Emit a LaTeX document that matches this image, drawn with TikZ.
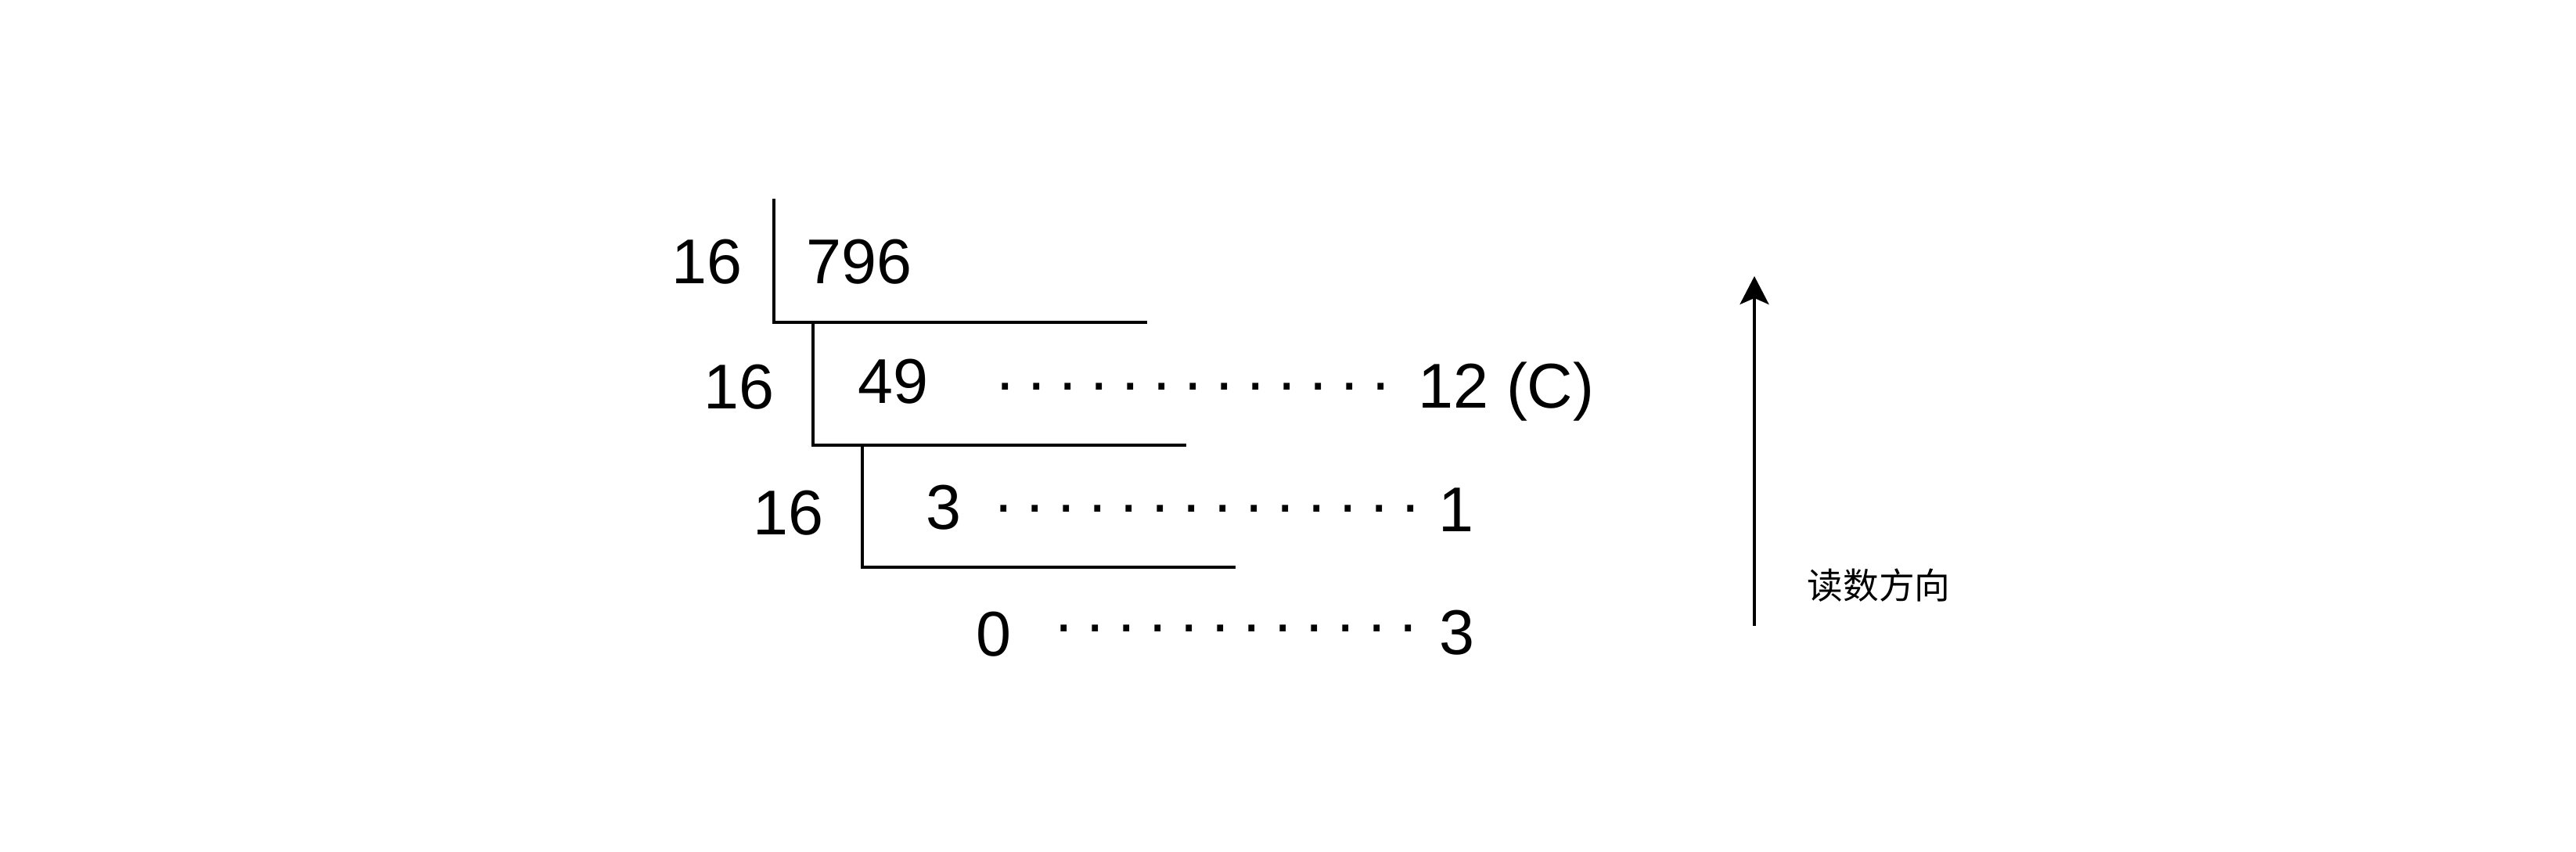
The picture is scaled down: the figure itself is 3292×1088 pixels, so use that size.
\documentclass[tikz,border=0pt]{standalone}
\usepackage{fontspec}
\setmainfont{Liberation Sans}
\newfontfamily\cjk{Noto Sans CJK SC}
\usetikzlibrary{arrows.meta}
\newcommand\dk{\kern0.175cm}
\begin{document}
\begin{tikzpicture}[x=0.01cm,y=-0.01cm,
  num/.style={inner sep=0pt,anchor=base,font=\fontsize{23}{27}\selectfont},
  dotrow/.style={inner sep=0pt,anchor=base west,font=\fontsize{23}{27}\selectfont},
  bracket/.style={line width=0.9pt,black},
  readarrow/.style={line width=1.1pt,black,-{Stealth[length=0.36cm,width=0.37cm,inset=0.08cm]}},
  cjklabel/.style={inner sep=0pt,font=\cjk\fontsize{13}{15}\selectfont}]
\useasboundingbox (0,0) rectangle (3292,1088);
% brackets
\coordinate (b1t) at (989,254);
\coordinate (b1c) at (989,412);
\coordinate (b1e) at (1466,412);
\coordinate (b2t) at (1039,412);
\coordinate (b2c) at (1039,569);
\coordinate (b2e) at (1516,569);
\coordinate (b3t) at (1102,569);
\coordinate (b3c) at (1102,725);
\coordinate (b3e) at (1579,725);
\draw[bracket] (b1t) -- (b1c) -- (b1e);
\draw[bracket] (b2t) -- (b2c) -- (b2e);
\draw[bracket] (b3t) -- (b3c) -- (b3e);
% numbers
\node[num] (d16a) at (903,362) {16};
\node[num] (n796) at (1098,362) {796};
\node[num] (d16b) at (944,522) {16};
\node[num] (n49) at (1141,515) {49};
\node[num] (r12) at (1925,521) {12 (C)};
\node[num] (d16c) at (1007,683) {16};
\node[num] (n3) at (1206,676) {3};
\node[num] (r1) at (1861,679) {1};
\node[num] (n0) at (1270,838) {0};
\node[num] (r3) at (1862,836) {3};
% dot rows
\node[dotrow] (dots1) at (1273,498) {.\dk.\dk.\dk.\dk.\dk.\dk.\dk.\dk.\dk.\dk.\dk.\dk.};
\node[dotrow] (dots2) at (1271,654) {.\dk.\dk.\dk.\dk.\dk.\dk.\dk.\dk.\dk.\dk.\dk.\dk.\dk.};
\node[dotrow] (dots3) at (1348,807) {.\dk.\dk.\dk.\dk.\dk.\dk.\dk.\dk.\dk.\dk.\dk.};
% reading direction
\coordinate (abot) at (2242,800);
\coordinate (atop) at (2242,353);
\draw[readarrow] (abot) -- (atop);
\node[cjklabel] (lbl) at (2401,748) {读数方向};
\end{tikzpicture}
\end{document}
